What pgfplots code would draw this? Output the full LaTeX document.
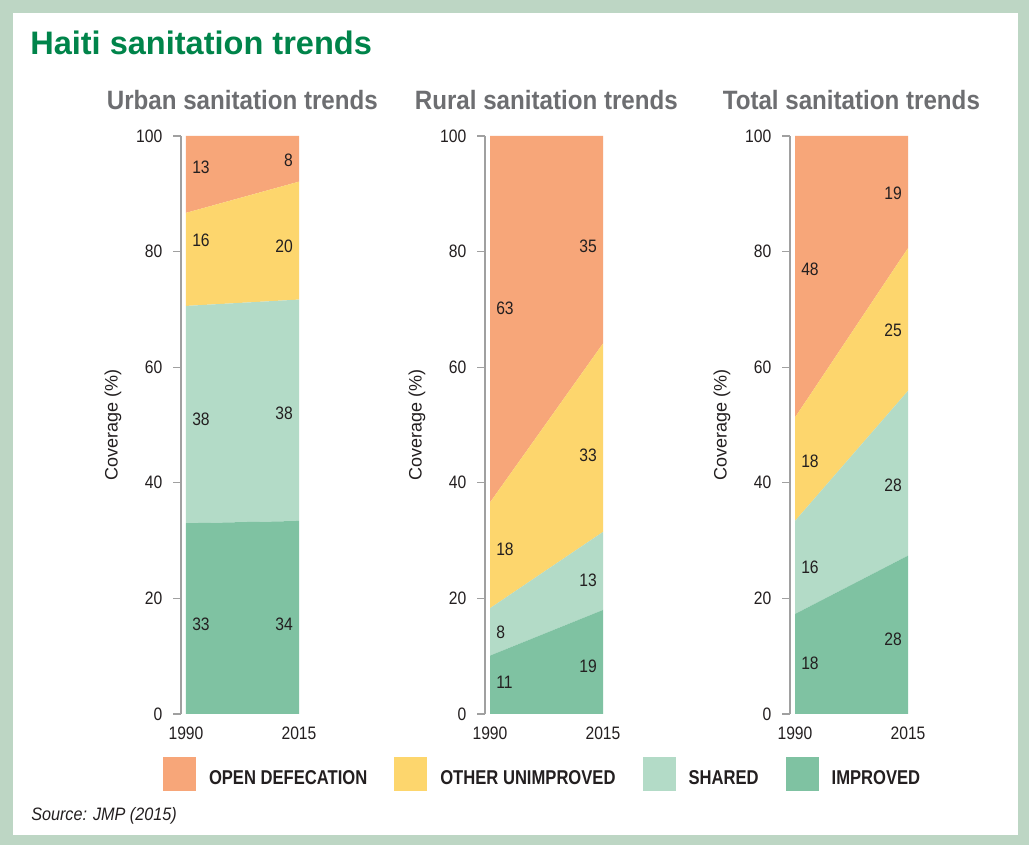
\documentclass[border=0pt]{standalone}
\usepackage{pgfplots}
\pgfplotsset{compat=1.18}
\usepackage{fontspec}
\setmainfont{Liberation Sans}
\newfontfamily\narrowfont[FakeStretch=0.87]{Liberation Sans}
\newfontfamily\subfont[FakeStretch=0.91]{Liberation Sans}
\newfontfamily\legfont[FakeStretch=0.83]{Liberation Sans}
\newfontfamily\srcfont[FakeStretch=0.9]{Liberation Sans}

\definecolor{framegreen}{RGB}{189,214,196}
\definecolor{titlegreen}{RGB}{0,132,74}
\definecolor{subgray}{RGB}{109,110,113}
\definecolor{axisgray}{RGB}{160,160,160}
\definecolor{textdark}{RGB}{35,31,32}
\definecolor{opendef}{RGB}{247,166,121}
\definecolor{otherunimp}{RGB}{253,214,109}
\definecolor{shared}{RGB}{179,219,199}
\definecolor{improved}{RGB}{127,194,162}

\newcommand\numsize{\narrowfont\fontsize{13.5}{16}\selectfont}

% 1 px of the reference = 0.75pt
\pgfplotsset{
  sanframe/.style={
    scale only axis, width=88.5pt, height=433.5pt,
    xmin=1988.894, xmax=2015, ymin=0, ymax=100,
    anchor=south west, clip=false,
  },
  sanaxis/.style={
    sanframe,
    axis lines*=left,
    x axis line style={draw=none},
    y axis line style={draw=axisgray, line width=1.1pt},
    ytick={0,20,40,60,80,100},
    xtick={1990,2015}, xticklabels={1990,2015},
    tick align=outside, major tick length=6pt,
    ytick style={draw=axisgray, line width=0.9pt},
    xtick style={draw=none},
    tick label style={font=\numsize, text=textdark},
    yticklabel style={xshift=-4.5pt},
    /pgf/number format/assume math mode=true,
    ylabel={Coverage (\%)},
    every axis y label/.style={at={(axis description cs:-0.576,0.5)}, rotate=90,
      anchor=center, font=\fontsize{13.5}{16}\selectfont, text=textdark},
    every axis title/.style={at={(axis description cs:0.52,1)}, anchor=base,
      yshift=20pt, inner sep=0pt, font=\subfont\bfseries\fontsize{19.9}{22}\selectfont,
      text=subgray},
    stack plots=y,
  },
  leftlab/.style={draw=none, mark=none, nodes near coords, point meta=explicit symbolic,
    every node near coord/.append style={anchor=west, xshift=4.5pt, inner sep=0pt,
      font=\numsize, text=textdark}},
  rightlab/.style={draw=none, mark=none, nodes near coords, point meta=explicit symbolic,
    every node near coord/.append style={anchor=east, xshift=-4.5pt, inner sep=0pt,
      font=\numsize, text=textdark}},
}

\begin{document}
\begin{tikzpicture}
\fill[framegreen] (0pt,0pt) rectangle (771.75pt,633.75pt);
\fill[white] (9.75pt,7.5pt) rectangle (763.5pt,624pt);

\node[anchor=base west, inner sep=0pt, font=\bfseries\fontsize{24.4}{28}\selectfont,
  text=titlegreen] at (22.5pt,592.5pt) {Haiti sanitation trends};

% Urban
\begin{axis}[sanaxis, at={(135.75pt,98.25pt)}, title={Urban sanitation trends},
  legend columns=4, reverse legend, legend cell align=left,
  legend image code/.code={\fill[#1] (0pt,-9pt) rectangle (24.75pt,16.5pt);},
  legend style={at={(axis description cs:-0.1525,-0.1038)}, anchor=west,
    draw=none, fill=none, inner sep=0pt, outer sep=0pt,
    font=\legfont\bfseries\fontsize{15}{18}\selectfont, text=textdark,
    nodes={inner sep=0pt},
    /tikz/every odd column/.append style={column sep=9.75pt},
    /tikz/every even column/.append style={column sep=20.25pt}},
]
\addplot[fill=improved, draw=none] coordinates {(1990,33.0) (2015,33.4)} \closedcycle;
\addplot[fill=shared, draw=none] coordinates {(1990,37.6) (2015,38.3)} \closedcycle;
\addplot[fill=otherunimp, draw=none] coordinates {(1990,16.1) (2015,20.4)} \closedcycle;
\addplot[fill=opendef, draw=none] coordinates {(1990,13.3) (2015,7.9)} \closedcycle;
\legend{IMPROVED, SHARED, OTHER UNIMPROVED, OPEN DEFECATION}
\end{axis}
\begin{axis}[sanframe, hide axis, at={(135.75pt,98.25pt)}]
\addplot[leftlab] coordinates {(1990,94.6) [13] (1990,82.0) [16] (1990,51.0) [38] (1990,15.5) [33]};
\addplot[rightlab] coordinates {(2015,95.8) [8] (2015,81.0) [20] (2015,52.1) [38] (2015,15.6) [34]};
\end{axis}

% Rural
\begin{axis}[sanaxis, at={(363.75pt,98.25pt)}, title={Rural sanitation trends}]
\addplot[fill=improved, draw=none] coordinates {(1990,10.1) (2015,18.0)} \closedcycle;
\addplot[fill=shared, draw=none] coordinates {(1990,8.2) (2015,13.5)} \closedcycle;
\addplot[fill=otherunimp, draw=none] coordinates {(1990,18.3) (2015,32.6)} \closedcycle;
\addplot[fill=opendef, draw=none] coordinates {(1990,63.4) (2015,35.9)} \closedcycle;
\end{axis}
\begin{axis}[sanframe, hide axis, at={(363.75pt,98.25pt)}]
\addplot[leftlab] coordinates {(1990,70.2) [63] (1990,28.5) [18] (1990,14.2) [8] (1990,5.5) [11]};
\addplot[rightlab] coordinates {(2015,81.0) [35] (2015,44.7) [33] (2015,23.1) [13] (2015,8.3) [19]};
\end{axis}

% Total
\begin{axis}[sanaxis, at={(592.5pt,98.25pt)}, title={Total sanitation trends}]
\addplot[fill=improved, draw=none] coordinates {(1990,17.3) (2015,27.4)} \closedcycle;
\addplot[fill=shared, draw=none] coordinates {(1990,16.1) (2015,28.5)} \closedcycle;
\addplot[fill=otherunimp, draw=none] coordinates {(1990,17.9) (2015,24.7)} \closedcycle;
\addplot[fill=opendef, draw=none] coordinates {(1990,48.7) (2015,19.4)} \closedcycle;
\end{axis}
\begin{axis}[sanframe, hide axis, at={(592.5pt,98.25pt)}]
\addplot[leftlab] coordinates {(1990,77.0) [48] (1990,43.8) [18] (1990,25.3) [16] (1990,8.7) [18]};
\addplot[rightlab] coordinates {(2015,90.0) [19] (2015,66.3) [25] (2015,39.5) [28] (2015,13.0) [28]};
\end{axis}

\node[anchor=base west, inner sep=0pt, font=\srcfont\itshape\fontsize{13.5}{16}\selectfont,
  text=textdark] at (23.25pt,18pt) {Source: JMP (2015)};
\end{tikzpicture}
\end{document}
